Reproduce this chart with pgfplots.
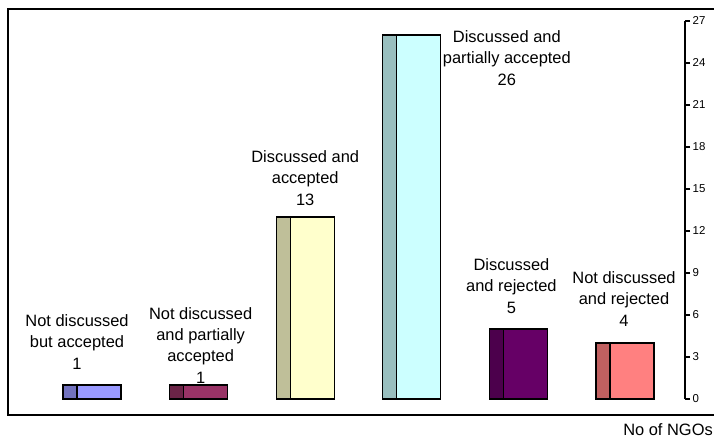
\documentclass[border=0pt]{standalone}
\usepackage{pgfplots}
\pgfplotsset{compat=1.18}
\usepackage{fontspec}
\setmainfont{Liberation Sans}

% bar colours: front face and darker side face
\definecolor{fA}{HTML}{9999FF}\definecolor{sA}{HTML}{7272BF}
\definecolor{fB}{HTML}{993366}\definecolor{sB}{HTML}{6B2447}
\definecolor{fC}{HTML}{FFFFCC}\definecolor{sC}{HTML}{BFBF99}
\definecolor{fD}{HTML}{CCFFFF}\definecolor{sD}{HTML}{99BFBF}
\definecolor{fE}{HTML}{660066}\definecolor{sE}{HTML}{4C004C}
\definecolor{fF}{HTML}{FF8080}\definecolor{sF}{HTML}{C06060}

\newcommand{\lblfont}{\fontsize{16.5}{21.5}\selectfont}
\newcommand{\tickfont}{\fontsize{11.5}{13}\selectfont}

\begin{document}
\begin{tikzpicture}
\begin{axis}[
  at={(0,0)}, anchor=south west, scale only axis,
  width=677bp, height=378bp,
  xmin=-0.854, xmax=5.497, ymin=0, ymax=27,
  axis x line=none, axis y line*=right,
  xtick=\empty,
  ytick={0,3,...,27}, tick align=outside, major tick length=5bp,
  y axis line style={line width=1.6bp},
  every tick/.style={black, line width=1.2bp},
  yticklabel={\tickfont\pgfmathprintnumber[assume math mode=true]{\tick}},
  yticklabel style={inner sep=0pt, xshift=2.5bp},
  /pgf/number format/assume math mode=true,
  ybar,
  every axis plot/.append style={draw=black, line width=1.3bp},
  every node near coord/.append style={font=\lblfont, align=center, inner sep=0pt, text=black},
  clip=false,
]
% side faces
\addplot[fill=sA, bar width=14bp, bar shift=-29bp] coordinates {(0,1)};
\addplot[fill=sB, bar width=14bp, bar shift=-29bp] coordinates {(1,1)};
\addplot[fill=sC, bar width=14bp, bar shift=-29bp] coordinates {(2,13)};
\addplot[fill=sD, bar width=14bp, bar shift=-29bp] coordinates {(3,26)};
\addplot[fill=sE, bar width=14bp, bar shift=-29bp] coordinates {(4,5)};
\addplot[fill=sF, bar width=14bp, bar shift=-29bp] coordinates {(5,4)};
% front faces with their labels
\addplot[fill=fA, bar width=44bp, bar shift=0pt,
  nodes near coords={Not discussed\\but accepted\\\pgfmathprintnumber{\pgfplotspointmeta}},
  every node near coord/.append style={xshift=-22bp, yshift=15bp}] coordinates {(0,1)};
\addplot[fill=fB, bar width=44bp, bar shift=0pt,
  nodes near coords={Not discussed\\and partially\\accepted\\\pgfmathprintnumber{\pgfplotspointmeta}},
  every node near coord/.append style={xshift=-5bp, yshift=1bp}] coordinates {(1,1)};
\addplot[fill=fC, bar width=44bp, bar shift=0pt,
  nodes near coords={Discussed and\\accepted\\\pgfmathprintnumber{\pgfplotspointmeta}},
  every node near coord/.append style={xshift=-7bp, yshift=11bp}] coordinates {(2,13)};
\addplot[fill=fD, bar width=44bp, bar shift=0pt,
  nodes near coords={Discussed and\\partially accepted\\\pgfmathprintnumber{\pgfplotspointmeta}},
  every node near coord/.append style={xshift=88bp, yshift=-51bp}] coordinates {(3,26)};
\addplot[fill=fE, bar width=44bp, bar shift=0pt,
  nodes near coords={Discussed\\and rejected\\\pgfmathprintnumber{\pgfplotspointmeta}},
  every node near coord/.append style={xshift=-14bp, yshift=15bp}] coordinates {(4,5)};
\addplot[fill=fF, bar width=44bp, bar shift=0pt,
  nodes near coords={Not discussed\\and rejected\\\pgfmathprintnumber{\pgfplotspointmeta}},
  every node near coord/.append style={xshift=-8bp, yshift=16bp}] coordinates {(5,4)};
\end{axis}
% chart area border
\draw[line width=2bp] (720bp,389.5bp) -| (-0.5bp,-15.5bp) -- (720bp,-15.5bp);
\node[anchor=east, inner sep=0pt, font=\lblfont] at (705bp,-31bp) {No of NGOs};
\pgfresetboundingbox
\useasboundingbox (-8bp,-39bp) rectangle (706bp,399bp);
\end{tikzpicture}
\end{document}
